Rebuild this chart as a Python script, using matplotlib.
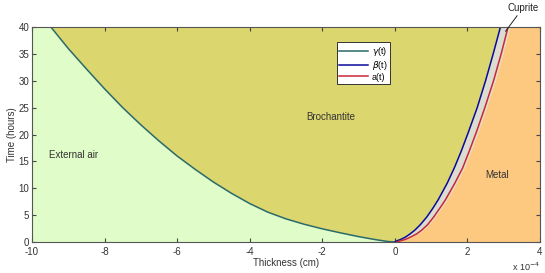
import numpy as np
import matplotlib
matplotlib.use('Agg')
import matplotlib.pyplot as plt

plt.rcParams['font.family'] = ['Liberation Sans', 'DejaVu Sans']
plt.rcParams['axes.unicode_minus'] = False

# curves: thickness in units of 1e-4 cm, time in hours
gamma_x = [-9.48, -9.0, -8.5, -8.0, -7.5, -7.0, -6.5, -6.0, -5.5, -5.0, -4.5, -4.0,
           -3.5, -3.0, -2.5, -2.0, -1.5, -1.0, -0.5, -0.2, 0.0]
gamma_t = [40, 36.0, 32.2, 28.5, 25.0, 21.8, 18.8, 16.0, 13.5, 11.15, 9.05, 7.15,
           5.55, 4.3, 3.3, 2.45, 1.7, 1.0, 0.4, 0.1, 0]

beta_t = [0, 0.2, 0.5, 0.9, 1.5, 2.2, 3.2, 4.65, 6.2, 7.8, 10.9, 13.8, 16.9, 20.5, 25, 30, 35, 40]
beta_x = [0.0, 0.05, 0.17, 0.29, 0.42, 0.55, 0.70, 0.88, 1.04, 1.19, 1.44, 1.64, 1.83, 2.03,
          2.27, 2.50, 2.71, 2.91]

a_t = [0, 0.2, 0.5, 0.9, 1.5, 2.2, 3.2, 4.65, 6.2, 7.8, 10.9, 13.8, 16.9, 20.5, 25, 30, 35, 40]
a_x = [0.05, 0.15, 0.3, 0.43, 0.6, 0.74, 0.9, 1.07, 1.23, 1.39, 1.65, 1.87, 2.05, 2.25,
       2.48, 2.72, 2.93, 3.12]

xticks = [-10, -8, -6, -4, -2, 0, 2, 4]
yticks = [0, 5, 10, 15, 20, 25, 30, 35, 40]

c_air = '#e0fcc8'
c_broch = '#dcd66e'
c_cup = '#dcdcd0'
c_metal = '#fdc880'

fig = plt.figure(figsize=(5.45, 2.73), dpi=100)
ax = fig.add_axes([0.0587, 0.1136, 0.9321, 0.7874])

gx, gt = np.array(gamma_x), np.array(gamma_t)
bx, bt = np.array(beta_x), np.array(beta_t)
rx, rt = np.array(a_x), np.array(a_t)

# regions
ax.fill(np.r_[-10, -10, gx], np.r_[0, 40, gt], color=c_air, lw=0)
ax.fill(np.r_[gx, bx], np.r_[gt, bt], color=c_broch, lw=0)
ax.fill(np.r_[bx, rx[::-1] + 0.06], np.r_[bt, rt[::-1]], color=c_cup, lw=0)
ax.fill(np.r_[rx + 0.06, 4, 4], np.r_[rt, 40, 0], color=c_metal, lw=0)

ax.plot(gx, gt, color='#2a6a6a', lw=1.1, label=r'$\gamma$(t)')
ax.plot(bx, bt, color='#0a0a9a', lw=1.1, label=r'$\beta$(t)')
ax.plot(rx, rt, color='#c82838', lw=1.1, label='a(t)')

ax.set_xlim(-10, 4)
ax.set_ylim(0, 40)
ax.set_xticks(xticks)
ax.set_yticks(yticks)
ax.tick_params(direction='in', top=True, right=True, length=3, labelsize=7,
               color='#444444', labelcolor='#333333', pad=2)
ax.tick_params(axis='x', pad=3.5)
for s in ax.spines.values():
    s.set_color('#555555')
    s.set_linewidth(0.8)

ax.set_xlabel('Thickness (cm)', fontsize=7, color='#333333', labelpad=0.5)
ax.set_ylabel('Time (hours)', fontsize=7, color='#333333', labelpad=1)

ax.text(-2.43, 23.3, 'Brochantite', fontsize=7, color='#333333', va='center')
ax.text(-9.53, 16.2, 'External air', fontsize=7, color='#333333', va='center')
ax.text(2.48, 12.5, 'Metal', fontsize=7, color='#333333', va='center')
ax.annotate('Cuprite', xy=(3.05, 39.2), xytext=(3.1, 43.0), fontsize=7,
            color='#222222', annotation_clip=False,
            arrowprops=dict(arrowstyle='-', color='#222222', lw=0.7,
                            shrinkA=0, shrinkB=0))
ax.text(1.0, -0.085, r'x 10$^{-4}$', transform=ax.transAxes, fontsize=6.5,
        color='#333333', ha='right', va='top')

leg = ax.legend(loc='upper left', bbox_to_anchor=(0.6, 0.93), fontsize=6.5,
                frameon=True, fancybox=False, handlelength=3.2, borderaxespad=0,
                borderpad=0.3, labelspacing=0.1, handletextpad=0.4)
leg.get_frame().set_edgecolor('#333333')
leg.get_frame().set_linewidth(0.7)
leg.get_frame().set_facecolor('white')
leg.get_frame().set_alpha(1)

fig.savefig('out.png', dpi=100)
